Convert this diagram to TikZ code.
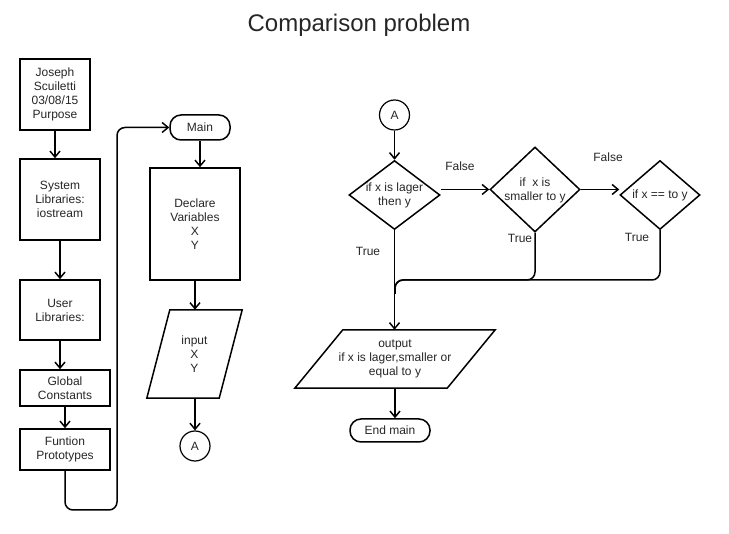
\documentclass[tikz,border=0pt]{standalone}
\usepackage{fontspec}
\setmainfont{Liberation Sans}
\usetikzlibrary{shapes.geometric,arrows.meta,calc}
\begin{document}
\begin{tikzpicture}[x=1pt,y=-1pt,
    every node/.style={font=\fontsize{12}{14}\selectfont, text=black!85, align=center},
    box/.style={draw, line width=1.5pt, inner sep=0pt},
    term/.style={draw, line width=1.5pt, rounded corners=11pt, inner sep=0pt},
    conn/.style={draw, circle, line width=1.2pt, minimum size=30pt, inner sep=0pt},
    decision/.style={draw, diamond, line width=1.5pt, inner sep=0pt},
    io/.style={inner sep=0pt},
    frame/.style={line width=1.5pt, line join=miter},
    flow/.style={line width=1.5pt, -{Straight Barb[length=6pt,width=10pt]}},
    wire/.style={line width=1.5pt, rounded corners=8pt}]
    \useasboundingbox (0,0) rectangle (729,534);
    \node[font=\fontsize{24}{29}\selectfont] (title) at (359,25) {Comparison problem};
    \node[box, minimum width=70pt, minimum height=71pt] (author) at (55,94.5) {Joseph\\Scuiletti\\03/08/15\\Purpose};
    \node[box, minimum width=80pt, minimum height=81pt] (syslib) at (60,199.5) {System\\Libraries:\\iostream};
    \node[box, minimum width=80pt, minimum height=60pt] (userlib) at (60,310) {User\\Libraries:};
    \node[box, minimum width=90pt, minimum height=36pt] (globals) at (65,388) {Global\\Constants};
    \node[box, minimum width=90pt, minimum height=41pt] (protos) at (65,449.5) {Funtion\\Prototypes};
    \node[term, minimum width=60pt, minimum height=25pt] (main) at (200,127.5) {Main};
    \node[box, minimum width=90pt, minimum height=112pt] (declare) at (195,224) {Declare\\Variables\\X\\Y};
    \node[io, minimum width=95pt, minimum height=88pt] (input) at (194.5,354) {input\\X\\Y};
    \draw[frame] (input.south west) -- ($(input.north west)+(23,0)$) -- (input.north east) -- ($(input.south east)+(-23,0)$) -- cycle;
    \node[conn] (offa) at (195,446) {A};
    \coordinate (loop) at (117,510);
    \draw[flow] (author.south) -- (author.south |- syslib.north);
    \draw[flow] (syslib.south) -- (userlib.north);
    \draw[flow] (userlib.south) -- (userlib.south |- globals.north);
    \draw[flow] (globals.south) -- (protos.north);
    \draw[wire, -{Straight Barb[length=6pt,width=10pt]}] (protos.south) |- (loop) |- (main.west);
    \draw[flow] (main.south) -- (main.south |- declare.north);
    \draw[flow] (declare.south -| offa.north) -- (offa.north |- input.north);
    \draw[flow] (offa.north |- input.south) -- (offa.north);

    \node[conn] (ona) at (394.5,115) {A};
    \node[decision, minimum width=91pt, minimum height=69pt] (bigger) at (394.5,195) {};
    \node (biggertxt) at (bigger) {if x is lager\\then y};
    \node[decision, minimum width=90pt, minimum height=85pt] (smaller) at (535,189.5) {};
    \node (smallertxt) at (535,190) {if~ x is\\smaller to y};
    \node[decision, minimum width=80pt, minimum height=69pt] (equal) at (660,195) {};
    \node (equaltxt) at (equal) {if x == to y};
    \node (false1) at (460,166) {False};
    \node (false2) at (608,157) {False};
    \node (true1) at (368,251) {True};
    \node (true2) at (520,238) {True};
    \node (true3) at (637,237) {True};
    \node[io, minimum width=200pt, minimum height=58pt] (output) at (395,359) {output\\if x is lager,smaller or\\equal to y};
    \draw[frame] (output.south west) -- ($(output.north west)+(48,0)$) -- (output.north east) -- ($(output.south east)+(-48,0)$) -- cycle;
    \node[term, minimum width=80pt, minimum height=23pt] (endmain) at (390,430.5) {End main};
    \coordinate (merge) at (395,280);
    \draw[flow] (ona.south) -- (bigger.north);
    \draw[flow] (bigger.east |- smaller.west) -- (smaller.west);
    \draw[flow] (smaller.east) -- (smaller.east -| equal.west);
    \draw[flow] (bigger.south) -- (bigger.south |- output.north);
    \draw[wire] (smaller.south) |- (merge) -- ++(0,14);
    \draw[wire] (equal.south) |- (merge) -- ++(0,14);
    \draw[flow] (output.south) -- (output.south |- endmain.north);
\end{tikzpicture}
\end{document}
